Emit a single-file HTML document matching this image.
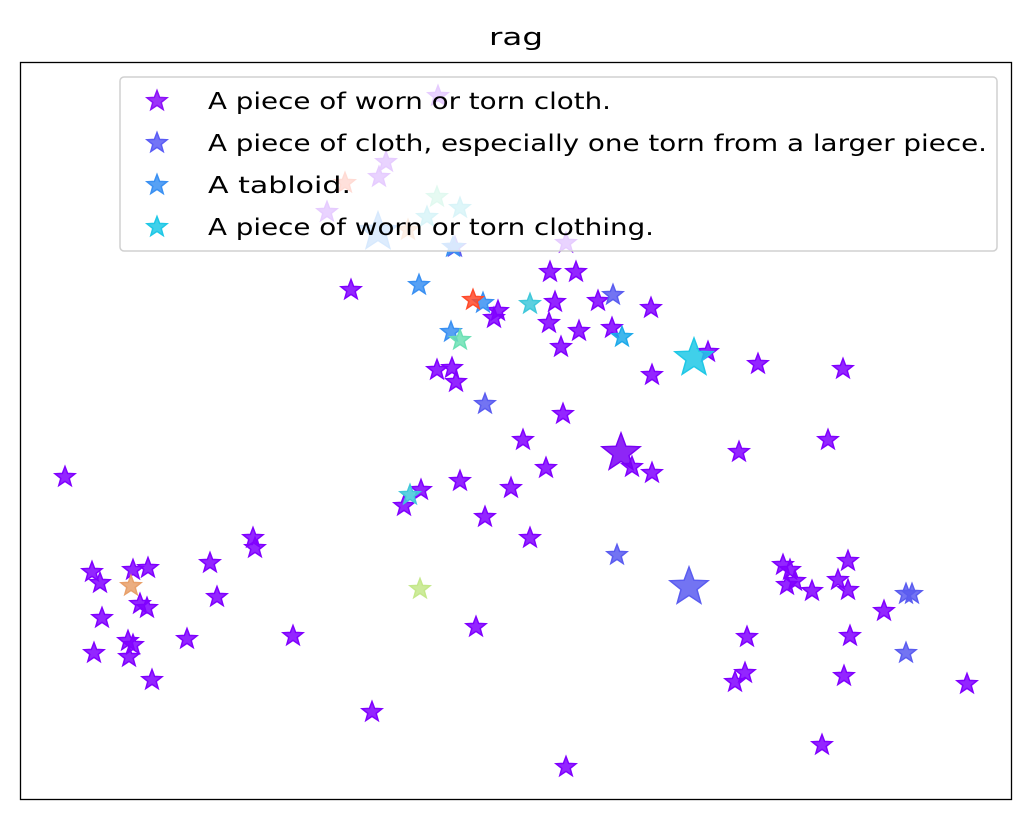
<!DOCTYPE html>
<html><head><meta charset="utf-8"><style>
body{margin:0;background:#fff;}
svg{display:block;font-family:"DejaVu Sans","Liberation Sans",sans-serif;}
</style></head><body>
<svg id="chart" width="1031" height="821" viewBox="0 0 1031 821" xmlns="http://www.w3.org/2000/svg">
<rect width="1031" height="821" fill="#fff"/>
<text x="489" y="45" font-size="24" textLength="54" lengthAdjust="spacingAndGlyphs" fill="#000">rag</text>
<g id="marks"></g>
<rect x="20.5" y="62.5" width="991" height="737" fill="none" stroke="#000" stroke-width="1.3"/>
<g id="legend"></g>
</svg>
<script>
// series data (arbitrary units)
const purpleX=[4.5,7.2,8.0,11.3,12.8,8.2,12.0,12.7,7.4,10.8,11.3,10.9,13.2,16.7,19.0,19.7,23.3,23.5,27.3,35.2,38.4,40.1,44.0,46.5,49.1,51.0,45.6,52.6,50.3,54.3,54.6,61.2,63.2,71.9,80.8,72.7,72.5,71.5,76.3,77.0,77.5,76.7,79.2,81.8,82.8,82.8,83.0,82.4,86.4,94.7,80.2,33.1,53.0,55.6,53.5,57.8,63.1,52.9,55.9,47.4,47.8,54.1,59.2,63.2,68.8,73.8,82.3,41.7,43.2,43.6,30.7,36.6,35.9,41.8,54.6];
const purpleY=[32.3,22.8,21.7,23.0,23.2,18.2,19.6,19.2,14.7,15.9,15.5,14.3,12.0,16.1,23.7,20.3,26.2,25.2,16.4,8.8,29.4,31.0,31.9,28.3,31.2,26.2,17.3,33.2,36.0,38.6,3.3,33.3,32.7,34.8,36.0,16.3,12.7,11.8,23.5,23.0,21.9,21.5,20.9,22.0,23.9,21.0,16.4,12.4,18.9,11.6,5.5,51.0,52.8,52.8,49.8,49.9,49.2,47.7,46.9,48.2,48.9,45.3,47.2,42.5,44.8,43.6,43.1,43.0,43.2,41.8,58.8,63.8,62.3,70.4,55.7];
const violetX=[59.3,46.5,59.7,88.6,89.2,88.6,43.5];
const violetY=[50.5,39.6,24.5,20.6,20.6,14.7,55.3];
const blueX=[39.9,43.1,46.3,43.3];
const blueY=[51.5,46.8,49.7,55.3];
const skyX=[60.2];
const skyY=[46.3];
const cyanX=[51.0,39.0,44.0,40.7];
const cyanY=[49.6,30.5,59.2,58.3];
const redX=[45.3,32.5];
const redY=[50.0,61.7];
const aquaX=[44.0,41.7];
const aquaY=[46.0,60.3];
const orangeX=[11.1,38.8];
const orangeY=[21.4,57.0];
const limeX=[40.0];
const limeY=[21.1];
// large markers
const bigX=[60.1,66.9,35.8,67.4];
const bigY=[34.7,21.3,56.8,44.2];
const bigC=["#7a00f5","#5a5cf0","#3a90f2","#1fc8e6"];
const legendLabels=["A piece of worn or torn cloth.","A piece of cloth, especially one torn from a larger piece.","A tabloid.","A piece of worn or torn clothing."];
const legendWidths=[403,779,143,446];
const legendColors=["#8b10f8","#5a5cf5","#3a90f2","#1fc8e6"];

const X0=20,X1=1012,Y0=800,Y1=62;
function sx(v){return X0+(v/99.2)*(X1-X0);}
function sy(v){return Y0-(v/73.8)*(Y0-Y1);}
const NS="http://www.w3.org/2000/svg";
function starPath(cx,cy,r){
  let d="";const ri=r*0.42;
  for(let i=0;i<10;i++){const rr=i%2?ri:r;const a=-Math.PI/2+i*Math.PI/5;
    d+=(i?"L":"M")+(cx+rr*Math.cos(a)).toFixed(1)+","+(cy+rr*Math.sin(a)).toFixed(1);}
  return d+"Z";
}
const g=document.getElementById("marks");
function drawSeries(xs,ys,color,r,name){
  for(let i=0;i<xs.length;i++){
    const p=document.createElementNS(NS,"path");
    p.setAttribute("d",starPath(sx(xs[i]),sy(ys[i]),r));
    p.setAttribute("fill",color);p.setAttribute("fill-opacity","0.85");
    p.setAttribute("stroke",color);p.setAttribute("stroke-width","1.5");
    
    
    g.appendChild(p);
  }
}
drawSeries(purpleX,purpleY,"#8000ff",10.5,"point-worn-cloth");
drawSeries(violetX,violetY,"#5a5cf0",10.5,"point-cloth-piece");
drawSeries(blueX,blueY,"#3a90f2",10.5,"point-tabloid");
drawSeries(skyX,skyY,"#1eaaea",10.5,"point-sky");
drawSeries(cyanX,cyanY,"#40c8da",10.5,"point-clothing");
drawSeries(redX,redY,"#ff4a2a",10.5,"point-red");
drawSeries(aquaX,aquaY,"#6ce0b4",10.5,"point-aqua");
drawSeries(orangeX,orangeY,"#e8a06a",10.5,"point-orange");
drawSeries(limeX,limeY,"#c4e88a",10.5,"point-lime");
for(let i=0;i<bigX.length;i++){
  const p=document.createElementNS(NS,"path");
  p.setAttribute("d",starPath(sx(bigX[i]),sy(bigY[i]),20));
  p.setAttribute("fill",bigC[i]);p.setAttribute("fill-opacity","0.85");
  p.setAttribute("stroke",bigC[i]);p.setAttribute("stroke-width","1.5");
  
  
  g.appendChild(p);
}
const lg=document.getElementById("legend");
const box=document.createElementNS(NS,"rect");
box.setAttribute("x","120");box.setAttribute("y","77");box.setAttribute("width","877");box.setAttribute("height","174");
box.setAttribute("rx","4");box.setAttribute("fill","#fff");box.setAttribute("fill-opacity","0.8");
box.setAttribute("stroke","#d0d0d0");box.setAttribute("stroke-width","1.5");


lg.appendChild(box);
for(let i=0;i<legendLabels.length;i++){
  const y=101+i*42;
  const p=document.createElementNS(NS,"path");
  p.setAttribute("d",starPath(157,y,10.5));
  p.setAttribute("fill",legendColors[i]);p.setAttribute("fill-opacity","0.85");
  p.setAttribute("stroke",legendColors[i]);p.setAttribute("stroke-width","1.5");
  
  
  lg.appendChild(p);
  const t=document.createElementNS(NS,"text");
  t.setAttribute("x","208");t.setAttribute("y",y+8);t.setAttribute("font-size","23");t.setAttribute("fill","#000");
  t.setAttribute("textLength",legendWidths[i]);t.setAttribute("lengthAdjust","spacingAndGlyphs");
  t.textContent=legendLabels[i];
  
  
  lg.appendChild(t);
}
</script>
</body></html>
